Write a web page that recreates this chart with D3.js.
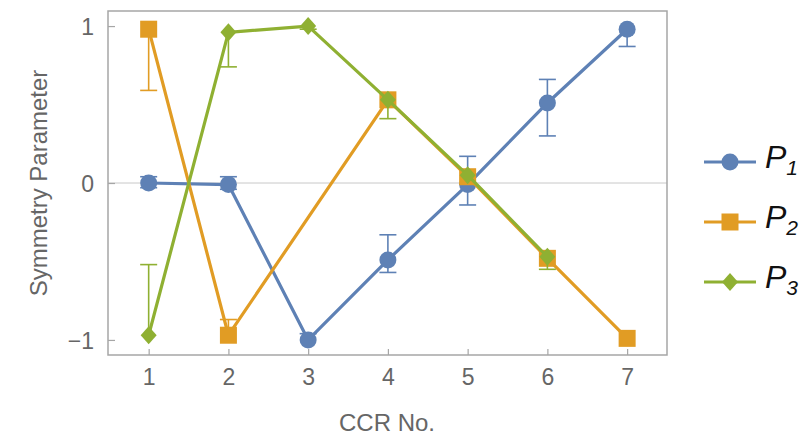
<!DOCTYPE html>
<html>
<head>
<meta charset="utf-8">
<script src="https://cdn.jsdelivr.net/npm/d3@7"></script>
<style>
	body { margin: 0; background: #fff; }
	text { font-family: 'Liberation Sans', Arial, sans-serif; }
</style>
</head>
<body>
<div id="chart"></div>
<script>

// CCR numbers on the x axis
const ccr = [1, 2, 3, 4, 5, 6, 7];

// P1 (blue, circles)
const p1 = [0.00, -0.01, -1.00, -0.49, -0.01, 0.51, 0.98];
const p1Lo = [-0.03, -0.04, -1.00, -0.57, -0.14, 0.30, 0.87];
const p1Hi = [0.04, 0.04, -0.96, -0.33, 0.17, 0.66, 0.98];

// P2 (orange, squares) - no point at CCR 3
const p2 = [0.98, -0.97, null, 0.53, 0.04, -0.48, -0.99];
const p2Lo = [0.59, -0.97, null, 0.53, 0.04, -0.48, -0.99];
const p2Hi = [0.98, -0.87, null, 0.53, 0.04, -0.48, -0.99];

// P3 (green, diamonds) - no point at CCR 7
const p3 = [-0.97, 0.96, 1.00, 0.53, 0.05, -0.47, null];
const p3Lo = [-0.97, 0.74, 0.98, 0.41, 0.05, -0.55, null];
const p3Hi = [-0.52, 0.96, 1.00, 0.53, 0.05, -0.47, null];

const yTicks = [-1, 0, 1];
const seriesNames = ['1', '2', '3'];


class SymmetryChart {

	constructor(options) {
		this.element = options.element;
		this.series = options.series;
		this.draw();
	}

}

SymmetryChart.prototype.draw = function() {

	this.width = 802;
	this.height = 435;
	this.left = 108;
	this.right = 667;
	this.top = 11;
	this.bottom = 355;

	this.createSVG();
	this.createScales();
	this.createFrame();
	this.createSeries();
	this.createLegend();
}

SymmetryChart.prototype.createSVG = function() {

	this.svg = d3.select(this.element)
		.append('svg')
			.attr('width', this.width)
			.attr('height', this.height);
}

SymmetryChart.prototype.createScales = function() {

	this.xScale = d3.scaleLinear()
		.domain([0.49, 7.5])
		.range([this.left, this.right]);

	this.yScale = d3.scaleLinear()
		.domain([-1.096, 1.096])
		.range([this.bottom, this.top]);
}

SymmetryChart.prototype.createFrame = function() {

	let gray = '#a6a6a6';
	let textGray = '#666';

	// zero line
	this.svg.append('line')
		.attr('x1', this.left)
		.attr('x2', this.right)
		.attr('y1', this.yScale(0))
		.attr('y2', this.yScale(0))
		.attr('stroke', '#c8c8c8')
		.attr('stroke-width', 1);

	this.xAxis = d3.axisBottom(this.xScale)
		.tickValues(ccr)
		.tickSizeInner(-6)
		.tickSizeOuter(0)
		.tickPadding(14)
		.tickFormat(d3.format('d'));

	this.yAxis = d3.axisLeft(this.yScale)
		.tickValues(yTicks)
		.tickSizeInner(-7)
		.tickSizeOuter(0)
		.tickPadding(14)
		.tickFormat(function(d) { return d < 0 ? '\u2212' + Math.abs(d) : d; });

	let gx = this.svg.append('g')
		.attr('transform', `translate(0, ${this.bottom})`)
		.call(this.xAxis);

	let gy = this.svg.append('g')
		.attr('transform', `translate(${this.left}, 0)`)
		.call(this.yAxis);

	[gx, gy].forEach(function(g) {
		g.select('.domain').remove();
		g.selectAll('line').attr('stroke', gray).attr('stroke-width', 1.2);
		g.selectAll('text')
			.attr('fill', textGray)
			.style('font-size', '23px')
			.style('font-family', "'Liberation Sans', Arial, sans-serif");
	});
	gy.selectAll('text').attr('dy', '0.36em');

	// frame
	this.svg.append('rect')
		.attr('x', this.left)
		.attr('y', this.top)
		.attr('width', this.right - this.left)
		.attr('height', this.bottom - this.top)
		.attr('fill', 'none')
		.attr('stroke', gray)
		.attr('stroke-width', 1.5);

	this.svg.append('text')
		.attr('x', (this.left + this.right) / 2 - 0.5)
		.attr('y', 431)
		.attr('text-anchor', 'middle')
		.attr('fill', textGray)
		.style('font-size', '24px')
		.text('CCR No.');

	this.svg.append('text')
		.attr('transform', `translate(47, ${(this.top + this.bottom) / 2}) rotate(-90)`)
		.attr('text-anchor', 'middle')
		.attr('fill', textGray)
		.style('font-size', '24px')
		.text('Symmetry Parameter');
}

SymmetryChart.prototype.marker = function(g, shape, color, x, y) {

	if (shape == 'circle') {
		g.append('circle')
			.attr('cx', x)
			.attr('cy', y)
			.attr('r', 8.5)
			.attr('fill', color);
	} else if (shape == 'square') {
		g.append('rect')
			.attr('x', x - 8.5)
			.attr('y', y - 8.5)
			.attr('width', 17)
			.attr('height', 17)
			.attr('fill', color);
	} else {
		g.append('path')
			.attr('d', `M${x},${y - 9}L${x + 8},${y}L${x},${y + 9}L${x - 8},${y}Z`)
			.attr('fill', color);
	}
}

SymmetryChart.prototype.createSeries = function() {

	let that = this;

	this.series.forEach(function(s) {

		let pts = ccr.map(function(c, i) {
			return { x: c, y: s.values[i], lo: s.lo[i], hi: s.hi[i] };
		}).filter(function(d) { return d.y != null; });

		let g = that.svg.append('g');

		let line = d3.line()
			.x(function(d) { return that.xScale(d.x); })
			.y(function(d) { return that.yScale(d.y); });

		g.append('path')
			.datum(pts)
			.attr('d', line)
			.attr('fill', 'none')
			.attr('stroke', s.color)
			.attr('stroke-width', 3.2)
			.attr('stroke-linejoin', 'round');

		// error bars
		pts.forEach(function(d) {
			if (d.lo == d.hi) return;
			let x = that.xScale(d.x);
			g.append('line')
				.attr('x1', x).attr('x2', x)
				.attr('y1', that.yScale(d.lo))
				.attr('y2', that.yScale(d.hi))
				.attr('stroke', s.color)
				.attr('stroke-width', 1.6);
			[d.lo, d.hi].forEach(function(v) {
				if (v == d.y) return;
				g.append('line')
					.attr('x1', x - 8.5).attr('x2', x + 8.5)
					.attr('y1', that.yScale(v))
					.attr('y2', that.yScale(v))
					.attr('stroke', s.color)
					.attr('stroke-width', 1.6);
			});
		});

		pts.forEach(function(d) {
			that.marker(g, s.shape, s.color, that.xScale(d.x), that.yScale(d.y));
		});
	});
}

SymmetryChart.prototype.createLegend = function() {

	let that = this;

	this.series.forEach(function(s, i) {
		let y = 162 + 60 * i;
		let g = that.svg.append('g');

		g.append('line')
			.attr('x1', 704).attr('x2', 756)
			.attr('y1', y).attr('y2', y)
			.attr('stroke', s.color)
			.attr('stroke-width', 3.2);

		that.marker(g, s.shape, s.color, 730, y);

		// subscript kept just inside the right edge
		let t = g.append('text')
			.attr('x', 765)
			.attr('y', y + 6)
			.attr('fill', '#111')
			.style('font-size', '32px')
			.style('font-style', 'italic');
		t.append('tspan').text('P');
		t.append('tspan')
			.attr('dy', 7)
			.style('font-size', '21px')
			.text(seriesNames[i]);
	});
}


new SymmetryChart({
	element: '#chart',
	series: [
		{ values: p1, lo: p1Lo, hi: p1Hi, color: '#5e81b5', shape: 'circle' },
		{ values: p2, lo: p2Lo, hi: p2Hi, color: '#e19c24', shape: 'square' },
		{ values: p3, lo: p3Lo, hi: p3Hi, color: '#8fb032', shape: 'diamond' }
	]
});

</script>
</body>
</html>
